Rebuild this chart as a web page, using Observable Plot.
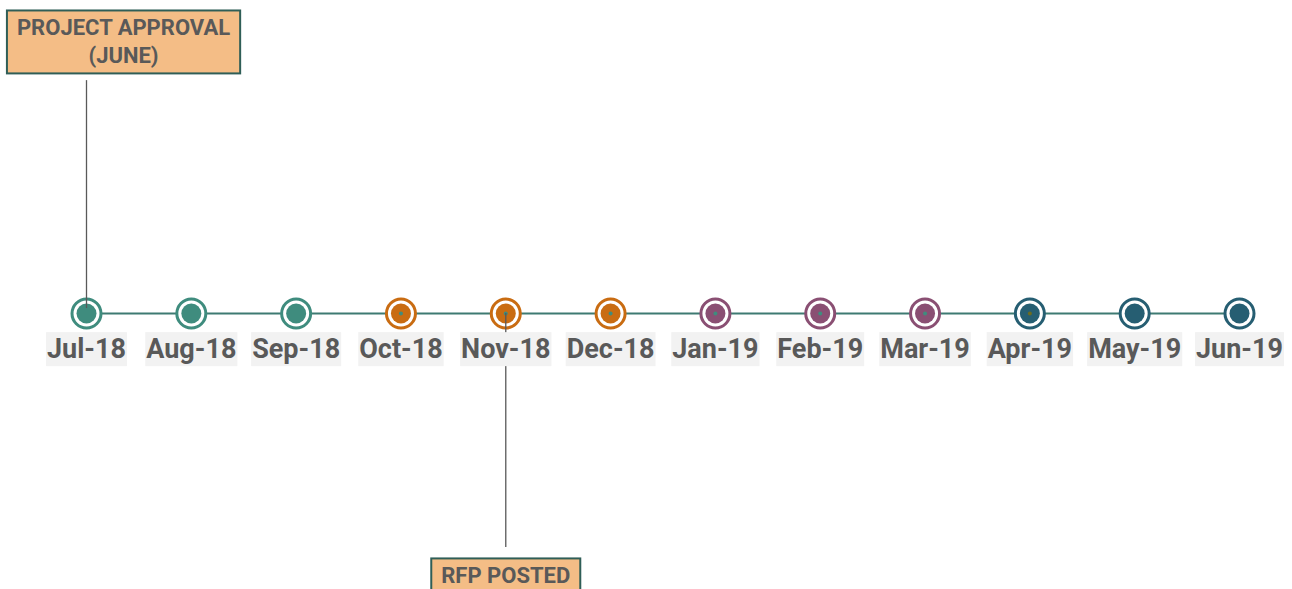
<!DOCTYPE html>
<html><head><meta charset="utf-8">
<script src="https://cdn.jsdelivr.net/npm/d3@7"></script>
<script src="https://cdn.jsdelivr.net/npm/@observablehq/plot@0.6"></script>
<style>html,body{margin:0;padding:0;background:#fff;overflow:hidden} svg{display:block}</style>
</head><body><div id="chart"></div>
<script>
// ---- data ----
const months = ["Jul-18","Aug-18","Sep-18","Oct-18","Nov-18","Dec-18","Jan-19","Feb-19","Mar-19","Apr-19","May-19","Jun-19"];
const quarters = ["Q3 2018","Q3 2018","Q3 2018","Q4 2018","Q4 2018","Q4 2018","Q1 2019","Q1 2019","Q1 2019","Q2 2019","Q2 2019","Q2 2019"];
const centerMarks = [null,null,null,"center","center","center","center","center","center","accent",null,null];
const calloutTexts = ["PROJECT APPROVAL\n(JUNE)", "RFP POSTED"];
const calloutMonths = ["Jul-18", "Nov-18"];
const calloutLevels = [1, -0.956];
const connectorTops = [0.853, 0];
const connectorBottoms = [0.018, -0.857];

// ---- tables ----
const rows = months.map((m, i) => ({month: m, quarter: quarters[i], center: centerMarks[i], level: 0}));
const callouts = calloutTexts.map((t, i) => ({text: t, month: calloutMonths[i], level: calloutLevels[i], top: connectorTops[i], bottom: connectorBottoms[i]}));

const FONT = "Roboto, 'Liberation Sans', Arial, sans-serif";
const quarterKeys = ["Q3 2018","Q4 2018","Q1 2019","Q2 2019","center","accent"];
const quarterColors = ["#3f8c7e","#c96c12","#8a4f73","#265e72","#3f8c7e","#6b6b1f"];

const plot = Plot.plot({
  width: 1292,
  height: 589,
  margin: 0,
  style: {fontFamily: FONT, background: "#fff"},
  x: {type: "point", domain: months, range: [86, 1239], padding: 0, round: false, axis: null},
  y: {domain: [-1, 1], range: [586, 40], axis: null},
  color: {domain: quarterKeys, range: quarterColors},
  marks: [
    Plot.ruleY(rows.slice(0, 1), {y: "level", x1: () => months[0], x2: () => months[months.length - 1], stroke: "#3e7a72", strokeWidth: 2}),
    Plot.dot(rows, {x: "month", y: "level", r: 14.5, stroke: "quarter", strokeWidth: 3, fill: "white"}),
    Plot.dot(rows, {x: "month", y: "level", r: 10, fill: "quarter", stroke: "none"}),
    Plot.dot(rows.filter(d => d.center), {x: "month", y: "level", r: 2, fill: "center", stroke: "none"}),
    Plot.ruleX(callouts, {x: "month", y1: "top", y2: "bottom", stroke: "#595959", strokeWidth: 1.3}),
    Plot.text(rows, {x: "month", y: "level", text: "month", dy: 36, fontSize: 27, fontWeight: "bold", fill: "#595959", fontFamily: FONT}),
    Plot.text(callouts, {x: "month", y: "level", text: "text", fontSize: 22, fontWeight: "bold", fill: "#595959", lineHeight: 1.27, fontFamily: FONT})
  ]
});

document.getElementById("chart").append(plot);

// shift approval callout to the right of its connector
const textGroups = plot.querySelectorAll('g[aria-label="text"]');
const calloutTextEls = textGroups[1].querySelectorAll("text");
calloutTextEls[0].setAttribute("transform", (calloutTextEls[0].getAttribute("transform") || "") + " translate(37,0)");

function addBoxes(group, fill, stroke, padX, padY) {
  group.querySelectorAll("text").forEach(t => {
    const b = t.getBBox();
    const r = document.createElementNS("http://www.w3.org/2000/svg", "rect");
    r.setAttribute("x", b.x - padX);
    r.setAttribute("y", b.y - padY);
    r.setAttribute("width", b.width + 2 * padX);
    r.setAttribute("height", b.height + 2 * padY);
    r.setAttribute("fill", fill);
    if (stroke) { r.setAttribute("stroke", stroke); r.setAttribute("stroke-width", 2); }
    const tr = t.getAttribute("transform");
    if (tr) r.setAttribute("transform", tr);
    t.parentNode.insertBefore(r, t);
  });
}
addBoxes(textGroups[0], "#f2f2f2", null, 1, 1);
addBoxes(textGroups[1], "#f4bd86", "#2f5e57", 10, 5);
</script>
</body></html>
